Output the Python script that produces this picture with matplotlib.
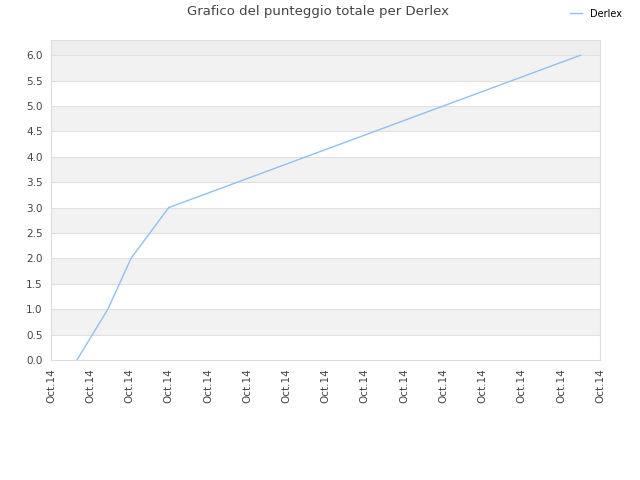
import numpy as np
import matplotlib
matplotlib.use("Agg")
import matplotlib.pyplot as plt

# data
x_pos = [0.66, 1.45, 2.04, 3.0, 13.5]
scores = [0.0, 1.0, 2.0, 3.0, 6.0]
tick_labels = ["Oct.14"] * 15
series_name = "Derlex"

fig = plt.figure(figsize=(6.4, 4.8), dpi=100)
ax = fig.add_axes([0.0797, 0.25, 0.858, 0.6667])

ymax = 6.3
ax.set_xlim(0, 14)
ax.set_ylim(0, ymax)

# alternating bands
yb = np.arange(0, 6.0, 0.5)
for i, y0 in enumerate(yb):
    if i % 2 == 1:
        ax.axhspan(y0, y0 + 0.5, color="#f2f2f2", lw=0, zorder=0)
ax.axhspan(6.0, ymax, color="#eeeeee", lw=0, zorder=0)
for y0 in np.arange(0.5, 6.01, 0.5):
    ax.axhline(y0, color="#e0e0e0", lw=0.8, zorder=1)

line, = ax.plot(x_pos, scores, color="#90c0f0", lw=1, zorder=3)

ax.set_yticks(np.arange(0, 6.01, 0.5))
ax.set_yticklabels([f"{v:.1f}" for v in np.arange(0, 6.01, 0.5)])
ax.set_xticks(range(15))
ax.set_xticklabels(tick_labels, rotation=90)
ax.tick_params(axis="both", length=0, labelsize=7.5, labelcolor="#444444", pad=6)

for s in ax.spines.values():
    s.set_color("#dddddd")
    s.set_linewidth(0.8)

fig.text(0.497, 0.975, "Grafico del punteggio totale per Derlex", ha="center",
         va="center", fontsize=9.5, color="#444444")
fig.legend([line], [series_name], loc="upper right", bbox_to_anchor=(0.985, 1.0),
           frameon=False, fontsize=7, handlelength=1.2, handletextpad=0.8)

fig.savefig("out.png", dpi=100)
